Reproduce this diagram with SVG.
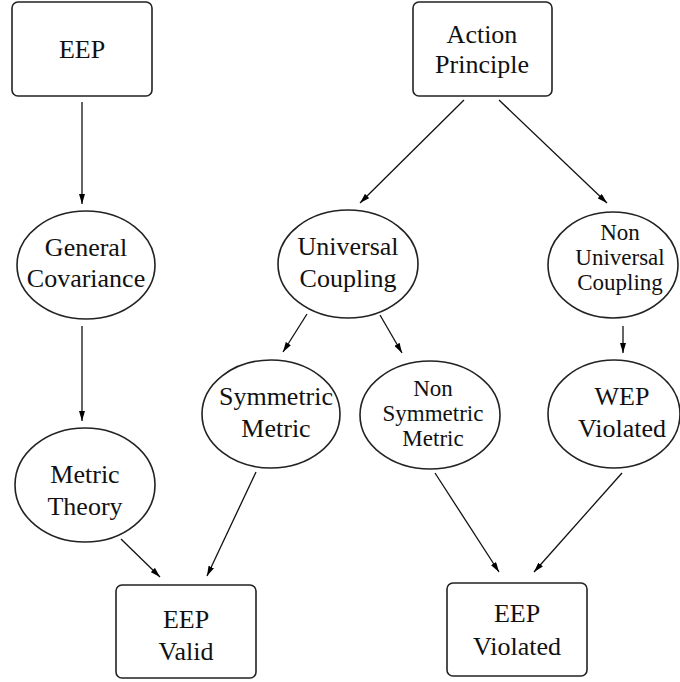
<svg xmlns="http://www.w3.org/2000/svg" width="680" height="682" viewBox="0 0 680 682">
<defs>
<marker id="ah" viewBox="0 0 10 6" refX="10" refY="3" markerWidth="10" markerHeight="6" markerUnits="userSpaceOnUse" orient="auto">
<path d="M0,0 L10,3 L0,6 Z" fill="#000"/>
</marker>
<style>
.box{fill:#fff;stroke:#222;stroke-width:1.6}
.ell{fill:#fff;stroke:#222;stroke-width:1.6}
.t{font-family:"Liberation Serif","Times New Roman",serif;font-size:26px;fill:#111;text-anchor:middle}
.s{font-size:23px}
.c{stroke:#111;stroke-width:1.3;fill:none;marker-end:url(#ah)}
</style>
</defs>
<rect width="680" height="682" fill="#fff"/>
<g id="connectors">
<line class="c" x1="82" y1="102" x2="82" y2="204"/>
<line class="c" x1="82" y1="326" x2="82" y2="421"/>
<line class="c" x1="464" y1="100" x2="360" y2="203"/>
<line class="c" x1="499" y1="100" x2="607" y2="203"/>
<line class="c" x1="307" y1="314" x2="283" y2="352"/>
<line class="c" x1="380" y1="315" x2="402" y2="353"/>
<line class="c" x1="623" y1="326" x2="623" y2="353"/>
<line class="c" x1="121" y1="539" x2="160" y2="577"/>
<line class="c" x1="256" y1="472" x2="207" y2="576"/>
<line class="c" x1="435" y1="473" x2="499" y2="572"/>
<line class="c" x1="622" y1="473" x2="534" y2="572"/>
</g>
<g id="eep">
<rect class="box" x="12" y="2" width="140" height="94" rx="6"/>
<text class="t" x="82" y="58">EEP</text>
</g>
<g id="action">
<rect class="box" x="413" y="2" width="139" height="94" rx="6"/>
<text class="t" x="482" y="43">Action</text>
<text class="t" x="482" y="73">Principle</text>
</g>
<g id="general">
<ellipse class="ell" cx="86" cy="265" rx="69" ry="54"/>
<text class="t" x="86" y="256">General</text>
<text class="t" x="86" y="287">Covariance</text>
</g>
<g id="universal">
<ellipse class="ell" cx="348" cy="264" rx="70" ry="54"/>
<text class="t" x="348" y="255">Universal</text>
<text class="t" x="348" y="287">Coupling</text>
</g>
<g id="nonuniversal">
<ellipse class="ell" cx="613" cy="265" rx="65" ry="53"/>
<text class="t s" x="620" y="240">Non</text>
<text class="t s" x="620" y="265">Universal</text>
<text class="t s" x="620" y="290">Coupling</text>
</g>
<g id="metrictheory">
<ellipse class="ell" cx="85" cy="485" rx="70" ry="57"/>
<text class="t" x="85" y="483">Metric</text>
<text class="t" x="85" y="515">Theory</text>
</g>
<g id="symmetric">
<ellipse class="ell" cx="271" cy="414" rx="69" ry="54"/>
<text class="t" x="276" y="405">Symmetric</text>
<text class="t" x="276" y="437">Metric</text>
</g>
<g id="nonsymmetric">
<ellipse class="ell" cx="430" cy="415" rx="70" ry="54"/>
<text class="t s" x="433" y="396">Non</text>
<text class="t s" x="433" y="421">Symmetric</text>
<text class="t s" x="433" y="446">Metric</text>
</g>
<g id="wep">
<ellipse class="ell" cx="614" cy="414" rx="66" ry="54"/>
<text class="t" x="622" y="405">WEP</text>
<text class="t" x="622" y="437">Violated</text>
</g>
<g id="eepvalid">
<rect class="box" x="116" y="585" width="140" height="93" rx="6"/>
<text class="t" x="186" y="628">EEP</text>
<text class="t" x="186" y="660">Valid</text>
</g>
<g id="eepviolated">
<rect class="box" x="447" y="583" width="140" height="93" rx="6"/>
<text class="t" x="517" y="622">EEP</text>
<text class="t" x="517" y="655">Violated</text>
</g>
</svg>
